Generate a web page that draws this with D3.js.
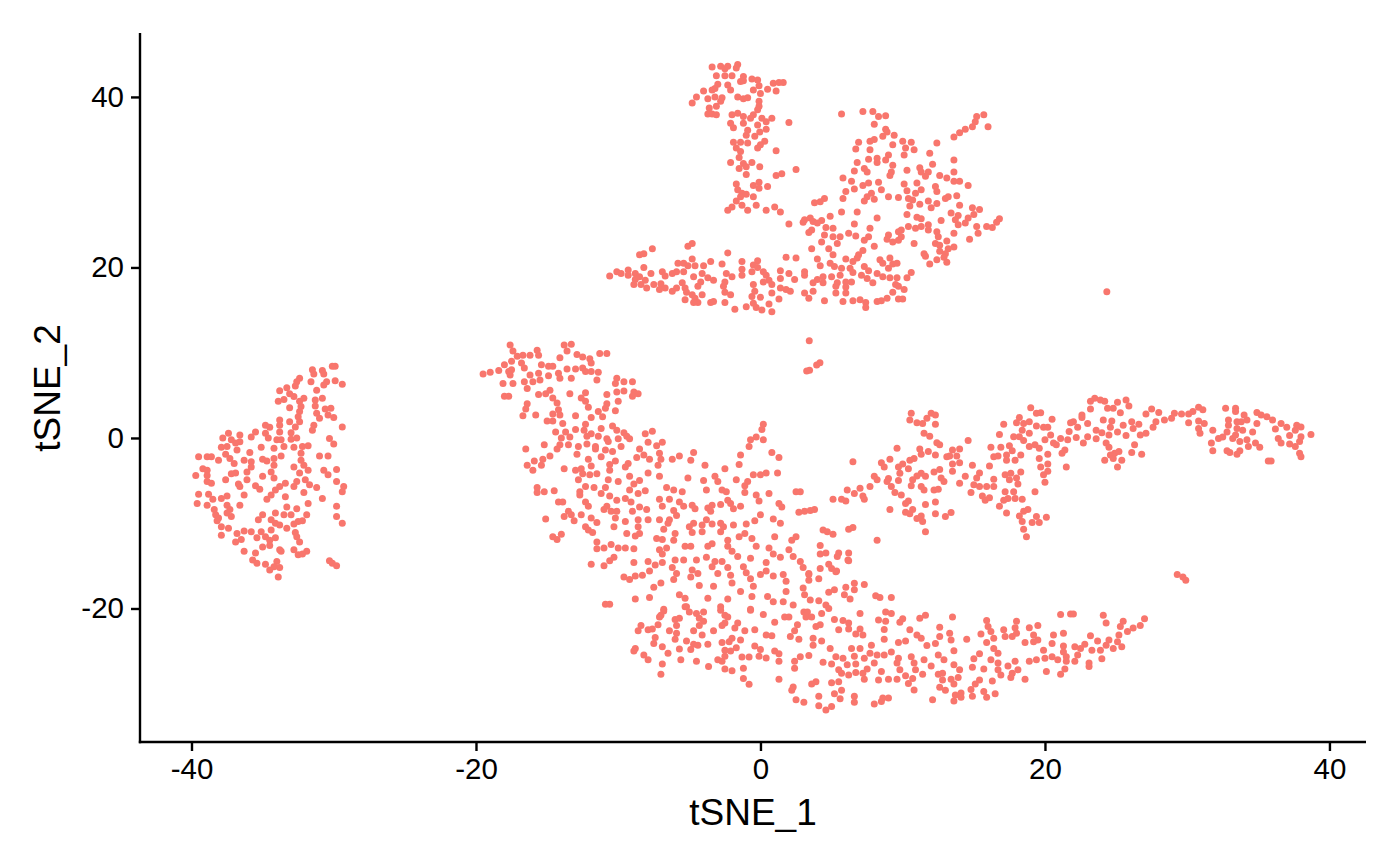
<!DOCTYPE html>
<html><head><meta charset="utf-8">
<script src="https://cdn.jsdelivr.net/npm/d3@7"></script>
<style>html,body{margin:0;padding:0;background:#fff}svg{display:block}</style>
</head><body><svg id="c" width="1400" height="865"></svg>
<script>
const xTicks=[-40,-20,0,20,40];
const yTicks=[-20,0,20,40];
const xLabel="tSNE_1", yLabel="tSNE_2";
const xDomain=[-43.62,42.57], yDomain=[-35.66,47.5];
const pointColor="#F8766D";
const leftCluster=[[-29.9,8.4],[-30.1,8.4],[-31.5,8],[-31.4,7.5],[-30.8,7.9],[-30.7,7.5],[-32.4,7],[-32.6,6.6],[-32.7,6.1],[-31.6,6.6],[-30.5,6.6],[-30.7,6.2],[-29.9,6.7],[-29.4,6.3],[-31.2,5.6],[-33.3,5.9],[-33.8,5.55],[-33.1,5.2],[-32.8,4.85],[-33.9,4.3],[-33.5,4.5],[-32.1,4.65],[-32.4,4.3],[-30.8,4.65],[-31.3,4.45],[-31.3,3.75],[-33.1,3.55],[-32.3,3.7],[-32.4,3.1],[-31.2,2.9],[-30.6,3.4],[-30.2,3.5],[-30.4,2.7],[-30,2.4],[-32.5,2.5],[-32.4,1.9],[-31,2.3],[-33.1,1.9],[-32.7,1.3],[-31.4,1.5],[-31.5,0.9],[-29.4,1.3],[-33.8,2.1],[-33.8,1.5],[-33.8,0.7],[-33,0.6],[-34.8,1.5],[-34.5,1.25],[-35.5,0.7],[-34.8,0.55],[-34.6,0],[-35.8,0.1],[-36.6,0.35],[-37.4,0.55],[-37.8,0],[-37.2,-0.2],[-36.6,-0.45],[-36.9,-0.6],[-34,-0.2],[-33.7,-0.2],[-33,-0.15],[-32.6,0],[-30.3,-0.05],[-30,-0.7],[-35.1,-1.1],[-34.2,-1.2],[-33.5,-1],[-32.8,-1.1],[-32.2,-1],[-31.8,-0.9],[-37.9,-1.1],[-37.5,-1],[-36.8,-1.4],[-35.9,-1.7],[-37.6,-1.9],[-37.3,-2.4],[-39.5,-2.2],[-38.9,-2.2],[-38.6,-2.2],[-38.1,-2.6],[-36.3,-2.6],[-37,-3],[-35.8,-2.8],[-35,-2.5],[-34.7,-2.7],[-34.2,-2.4],[-33.7,-2.1],[-32.3,-1.8],[-32.3,-2.6],[-31,-2.1],[-30.4,-2.1],[-34.2,-3.2],[-34.4,-4],[-32.8,-3.4],[-32.1,-3.2],[-31.8,-3.8],[-39.2,-3.6],[-38.9,-3.8],[-39.7,-4.4],[-38.9,-4.4],[-35.8,-3.4],[-36.1,-4],[-37.2,-4.2],[-36.9,-4.1],[-35,-4.5],[-34.2,-4.7],[-37.6,-4.9],[-36.1,-4.9],[-32.4,-4.1],[-30.7,-3.8],[-30.4,-4.3],[-29.8,-3.7],[-38.9,-5.1],[-38.6,-5.3],[-36.7,-5.4],[-36.6,-5.7],[-35.5,-5.6],[-35.2,-6],[-33.4,-5.3],[-33.8,-5.7],[-34.1,-6.1],[-32.6,-5.1],[-32.8,-5.7],[-32,-4.9],[-31.7,-5.5],[-31.2,-5.8],[-32.1,-6.4],[-29.8,-5.1],[-29.3,-5.7],[-29.4,-6.3],[-39.5,-6.6],[-38.8,-6.6],[-38.5,-7.2],[-37.9,-7.1],[-37.5,-6.8],[-36.3,-6.7],[-34.7,-7.2],[-34.4,-6.7],[-33.4,-6.9],[-30.8,-7.1],[-39.6,-7.7],[-38.9,-7.9],[-36.6,-7.9],[-37.5,-7.9],[-37.3,-8.4],[-38.4,-8.4],[-38.3,-9],[-37.5,-8.8],[-37.2,-9.2],[-38.1,-9.4],[-38.2,-9.7],[-31.8,-7.7],[-33.3,-8.1],[-32.6,-8.3],[-29.8,-8],[-31.9,-9],[-33,-9],[-33.5,-9],[-34.1,-8.8],[-35,-9],[-29.8,-9.2],[-29.4,-10],[-34.4,-9.6],[-35.3,-9.6],[-32.2,-9.7],[-32.5,-9.8],[-32.8,-10.1],[-33.8,-10.2],[-33.3,-10.6],[-34.1,-10],[-37.9,-10.4],[-37.4,-10.6],[-36.8,-11.2],[-37.9,-11.4],[-36.3,-10.9],[-35.8,-11],[-35.1,-11],[-34.4,-10.8],[-32.7,-11.1],[-35.4,-11.7],[-34.8,-11.6],[-34.1,-11.7],[-34.5,-12],[-32.6,-11.6],[-32.4,-12.2],[-36.5,-11.9],[-36.9,-12.2],[-35,-12.8],[-34.5,-12.6],[-36.3,-13.3],[-35.5,-13.5],[-33.8,-13.1],[-33.7,-13.3],[-32.8,-13.1],[-32.5,-13.7],[-31.9,-13.3],[-32.2,-13.6],[-35.7,-14.3],[-35.4,-14.7],[-34.8,-14.8],[-34,-14.5],[-34.2,-15.1],[-33.8,-15.2],[-34.5,-15.5],[-33.9,-16.3],[-30.3,-14.4],[-30.1,-14.7],[-29.8,-15]];
const topColumn=[[-3.4,43.5],[-2.8,43.6],[-2.3,43.6],[-1.6,43.8],[-1.7,43.4],[-2.5,43.3],[-3.1,42.5],[-2.5,42.5],[-2,42.5],[-1.2,42.4],[-1.4,41.8],[-1.2,41.9],[-0.6,42.1],[-0.2,42],[0.9,41.6],[1.3,41.7],[1.6,41.7],[-2.3,41.4],[-2.1,40.8],[-3,41.5],[-3.2,41],[-3.4,40.8],[-4,40.7],[-0.5,40.8],[-0.1,41.3],[0,40.4],[0.5,40.9],[1.1,40.7],[-4.5,40],[-3.7,39.8],[-4.8,39.3],[-3.2,40],[-2.7,39.9],[-2.8,39.5],[-3.1,38.9],[-1.6,40],[-1.2,39.8],[-0.9,39.9],[-0.1,39.5],[-0.1,38.9],[-0.2,38.5],[-3.6,38.7],[-3.7,38],[-3.4,38],[-3.1,37.9],[-2,37.9],[-1.6,38.1],[-1.2,37.7],[-0.5,37.9],[-0.7,37.5],[-2.1,36.9],[-1.9,36.4],[-1.2,36.9],[0.1,37.5],[0.8,37.5],[0.4,37.1],[2,37],[-0.2,36.7],[0.4,36.2],[-0.9,36.1],[-1,35.5],[-0.4,35.4],[-0.05,35.9],[-1.9,34.7],[-1.4,34.7],[-0.9,34.6],[0.3,34.8],[0,34.4],[-0.2,34],[-1.7,34],[-1.4,33.6],[1.1,33.7],[-1.5,32.9],[-2.1,32.3],[-1.2,32.2],[-0.6,32.3],[-1.5,31.6],[-1,31.8],[-0.05,31.8],[2.5,31.5],[-1,30.9],[1.5,31],[1.1,30.8],[-1.7,29.8],[-1.6,29.1],[-0.5,29.6],[-0.1,30],[-0.1,29.3],[0.5,29.5],[-1.3,28.7],[-1,28.6],[-0.5,28.3],[-1.7,27.8],[-1.4,28.3],[-1.3,27.3],[-2,27.1],[-2.3,26.7],[-0.9,26.7],[-0.3,27.3],[0.4,26.7],[1,27.1],[1.4,26.5],[2,25.1]];
const topRight=[[5.7,38],[7.2,38.3],[7.9,38.3],[8.3,37.7],[8.8,37.8],[8,36.8],[8.8,36.2],[8.9,35.9],[8.6,35.4],[9.4,35.5],[9.3,34.4],[7.7,34.8],[8,35],[6.9,34.7],[6.7,33.9],[7.7,33.8],[10,34.8],[10.6,34.7],[10.2,34],[10.8,33.8],[10.1,33.2],[11.9,33.4],[12.4,34.6],[13.6,35.3],[14,35.8],[14.4,36.2],[14.9,36.5],[15.1,37.1],[15.2,37.7],[15.7,37.9],[16,36.5],[9,33.2],[8.8,32.6],[9.3,32],[9.2,31.2],[9.1,30.8],[7.6,32.7],[7.3,31.6],[8.2,32.8],[8.2,32.3],[6.8,32.3],[6.6,31.3],[7.5,31.2],[10.3,31.4],[11.2,31.7],[11.3,31.2],[11.8,31.2],[11.6,30.7],[12.1,32.1],[13.6,32.6],[13.6,31.2],[12.6,30.8],[13.1,30.5],[13.6,30.1],[14,30.1],[14.6,29.6],[5.8,30.5],[6.4,30.1],[7.6,29.9],[8.3,30],[7.2,29.6],[6.6,29.2],[6,28.9],[8.5,29.1],[10.1,29.8],[11,29.9],[10.3,29],[11.3,29.1],[12.3,29.5],[12.4,28.9],[5.8,28.1],[4.5,28.1],[4.2,27.7],[3.8,27.6],[7.5,28.3],[7.3,27.8],[7.8,28.7],[8,28],[9,28.3],[9.7,28.2],[10.4,28.1],[10.9,28.7],[10.7,27.9],[11.8,27.8],[11.2,27.4],[12,27],[12.4,27.5],[13,28.1],[13.8,28.4],[13.2,28.3],[10.5,27.2],[14,27.3],[13.4,26.4],[14.9,27],[15.4,26.8],[15,26.2],[13.9,26.1],[5.7,26.5],[6.8,26.5],[4.9,26],[8.2,25.8],[10.3,26.2],[11,25.9],[11.3,25.7],[12.7,25.5],[14.6,25.8],[13.7,25.6],[14.4,25.2],[16.8,25.7],[16.6,25.3],[13.9,25],[6.6,25.1],[3.1,25.6],[3.5,25.8],[3,25.3],[3.7,25.4],[4.3,25.5],[4,25.2],[4.6,24.7],[5.1,24.6],[3.6,24.4],[3.4,24.1],[7.7,24.6],[9.9,24.4],[10.4,24.8],[10.9,24.6],[11.3,24.8],[11.8,25],[11.8,24.4],[15.2,24.8],[15.9,24.8],[16.3,24.7],[15.3,24],[13.6,24],[12.4,24.2],[12.5,23.6],[4.5,23.8],[5.1,23.6],[5.6,23.6],[6.2,24],[6.7,23.7],[7.6,23.6],[7.3,23.2],[9,23.8],[8.9,23.3],[9.7,24.2],[9.9,23.6],[9.7,23.2],[9.3,23],[13.1,23.1],[14.7,23.3],[4.3,23],[5.4,22.8],[10.8,22.8],[12.3,22.8],[12.6,22.6],[8,22.5],[13.6,22.4],[13.2,22.2],[3.6,22.2],[4.8,22.2],[7.2,22],[12.6,21.9],[13,21.6],[5.1,21.5],[6.9,21.5],[11.5,21.6],[11.6,21.3],[12.9,21.2],[12.4,20.9],[13.1,20.6],[11.9,20.4]];
const bandEast=[[1.8,21.2],[2.5,21.1],[4,21],[6,21],[6.5,20.7],[6.8,21.1],[8.4,20.9],[9.1,21.1],[8.6,20.5],[9.3,20.4],[9.6,20.5],[4.2,20.2],[4.9,20.5],[5.2,20.1],[5.7,19.9],[6.3,19.9],[7.3,20.1],[7.6,19.6],[9,19.9],[8.2,19.3],[6.5,19.4],[3.1,19.5],[3.1,19.1],[5.6,19.1],[5,18.9],[4.4,18.9],[4,18.6],[6,18.3],[7.1,19.1],[7.5,18.7],[8.6,18.9],[9.1,18.8],[9.6,18.8],[10.6,19.4],[10.3,18.8],[3.7,18.2],[4.4,18.2],[5.4,18.2],[6.4,18.3],[7.9,18.2],[9.5,18],[6,17.7],[5.3,17.8],[9.7,17.8],[10.1,17.4],[9.3,17.1],[3.1,17],[3.7,17.2],[6,17],[5.3,17],[3.4,16.4],[4.5,16.1],[5.8,16],[6.5,16.1],[7,16.2],[7.4,15.9],[7.4,15.3],[8.2,16],[8.5,16.1],[8.9,16.4],[9.7,16.3],[10,16.3]];
const bandWest=[[-10.6,19],[-10.1,19.5],[-9.8,19.3],[-9.3,19.7],[-9.3,19.1],[-8.8,19.3],[-8.2,20],[-7.7,19.3],[-6.9,19.5],[-6.7,19],[-6.2,19.3],[-5.9,19.5],[-8.5,21.5],[-8.2,21.6],[-7.6,22.2],[-5.1,22.5],[-4.8,22.8],[-8.8,18.6],[-8.5,18.9],[-8.1,18.5],[-8.9,18],[-8.4,18],[-8,17.6],[-7.5,18],[-7,18.1],[-7.1,17.4],[-6.7,17.6],[-5.8,20.5],[-5.4,20.5],[-5.1,20.2],[-4.8,21],[-4.6,20.2],[-5.4,19.5],[-4,20.2],[-3.5,20.7],[-2.7,20.4],[-2.3,21.7],[-1.3,20.7],[-0.2,20.8],[-0.5,20.3],[-0.2,20],[-1.3,19.8],[-1.3,19.1],[-0.6,19.5],[-2.4,19.3],[-2,18.9],[0.2,19.5],[0.4,19.1],[1.4,19.6],[1.4,18.7],[2,19.3],[2.4,18.6],[-4.7,18.9],[-4.1,19.3],[-3.7,18.8],[-3.3,18.5],[-4.2,18.3],[-5.5,18.2],[-2.5,18.3],[-2.6,17.8],[-4.4,17.8],[-5.9,17.6],[-6.2,17.2],[-5.3,17.6],[0.6,18.5],[0.2,18.3],[-0.5,18],[0.8,18],[1.4,17.6],[1.8,17.4],[2.1,17.2],[-2.5,17.1],[-2.1,16.8],[-5.2,17.1],[-4.8,16.8],[-4.1,16.8],[-0.4,17.2],[-0.6,16.6],[0.8,17],[0,16.5],[-4.6,16.4],[-5.3,16.2],[-4.4,15.9],[-4.7,15.9],[-3.5,15.9],[-3.3,16],[-2.5,15.9],[1.3,16.3],[0.6,15.7],[-0.5,15.8],[-1,15.4],[-0.3,15.3],[-1.8,15.1],[0.1,15],[0.8,14.8]];
const isolated=[[24.35,17.16],[3.43,11.4],[3.25,7.85],[3.45,7.95],[3.95,8.55],[4.18,8.83],[29.3,-16],[29.7,-16.3],[29.9,-16.7]];
const centreFan=[[-17.6,10.9],[-17.4,10.2],[-17.1,9.6],[-16.7,9.7],[-16.2,9.7],[-15.7,10.3],[-15.6,9.7],[-13.8,10.9],[-13.3,11],[-13.6,10.2],[-14.1,9.4],[-12.9,9.8],[-12.5,9.5],[-12,9.3],[-11.9,8.8],[-11.3,9.9],[-10.8,9.9],[-19.5,7.5],[-19,7.7],[-18.4,7.9],[-18,8.6],[-17.5,9],[-16.8,8.8],[-16.6,8.2],[-15.4,8.6],[-14.9,8.4],[-14.6,8.4],[-17.7,7.8],[-17.5,8],[-17.6,7.4],[-16.2,7.4],[-15.6,7.6],[-14.9,7.3],[-14.2,7.6],[-14.1,7],[-13.6,8.1],[-13,8.1],[-12.5,8.2],[-12.3,7.8],[-11.9,7.8],[-11.4,7.7],[-11.5,6.8],[-13.3,7],[-18.1,6.4],[-17.4,6.4],[-16.6,6.6],[-16,6.6],[-15.5,6.8],[-16.4,5.8],[-15.6,5.1],[-18,4.9],[-17.7,4.9],[-14.8,5.6],[-15.1,5.2],[-13.4,5.2],[-12.3,5.3],[-12.6,4.7],[-10.8,5.1],[-10.1,7],[-10.2,6.4],[-9.6,6.6],[-9,6.6],[-10.1,5.4],[-9.6,5.5],[-8.9,5.4],[-8.6,5.2],[-9,4.9],[-10,4.3],[-14.6,4.7],[-14.3,4.1],[-12.3,4.3],[-12.1,3.6],[-10.8,4],[-10.9,3.5],[-16.4,4],[-16.5,3.4],[-16.7,2.6],[-15.8,2.7],[-14.6,2.8],[-14.2,3.3],[-14.1,2.7],[-13,2.6],[-11.9,2.4],[-11.4,3.1],[-11.1,2.5],[-10.2,3.2],[-15,2],[-14.6,2],[-13.9,1.7],[-12.3,1.6],[-10.4,1.4],[-10.1,0.9],[-11.2,1.1],[-14.4,0.7],[-13.7,0.7],[-13,1],[-12.4,0.9],[-11.9,0.5],[-9.6,0.6],[-9.4,0.2],[-9.2,-0.1],[-8.1,0.5],[-7.6,0.8],[-14,0],[-13.4,0.1],[-12.2,0.2],[-11.4,0.2],[-10.8,-0.1],[-10,-0.1],[-7.9,-0.5],[-6.9,-0.5],[-7.3,-0.9],[-14.1,-0.8],[-13.5,-0.8],[-12.8,-1],[-12.2,-0.7],[-11.6,-1],[-10.7,-0.4],[-9.8,-1],[-16.5,-1.3],[-15.2,-0.8],[-14.3,-1.3],[-10.9,-1.4],[-11.6,-1.3],[-12.9,-1.9],[-10.4,-1.6],[-8.5,-1.3],[-14.8,-2.1],[-15.3,-2.5],[-15.9,-2.7],[-12.1,-2.5],[-11.2,-2.2],[-10.2,-2.7],[-8.7,-2.3],[-8.2,-2],[-7.8,-2.5],[-7.1,-1.8],[-7,-2.5],[-6.2,-2.5],[-5.7,-2.1],[-4.7,-1.7],[-4.9,-2.6],[-16.4,-3.2],[-16,-3.8],[-15.4,-3.2],[-13.8,-3.6],[-13,-3.8],[-12.6,-3.6],[-11.9,-3.3],[-10.6,-3.1],[-10.6,-3.8],[-9.3,-3],[-9.5,-3.4],[-7.2,-3.2],[-3.9,-3.2],[-1.4,-2],[-1.5,-3.1],[0.8,-1.7],[1.3,-2.3],[0.2,1.6],[0.1,1],[-0.7,-0.2],[-0.8,-1],[-0.3,0.1],[0.2,-0.2],[-12.5,-4.2],[-12,-4.3],[-11.5,-4.2],[-12.8,-4.9],[-10.7,-4.9],[-10,-5.1],[-9.2,-4.5],[-7.9,-4.1],[-7.1,-4.5],[-5.1,-4.7],[-4,-5],[-3.2,-4.5],[-3,-5.1],[-2.5,-3.6],[-1.7,-4.9],[-0.5,-4.3],[0,-4.3],[0.4,-4.1],[1.2,-4.1],[-0.9,-5.1],[-1.1,-5.6],[-1.1,-6.4],[-8.5,-5],[-8.9,-5.4],[-12.3,-5.7],[-11.7,-5.8],[-10.9,-5.8],[-15.7,-5.8],[-15.7,-6.4],[-15.2,-6.3],[-14.5,-6.2],[-12.7,-6.3],[-11.2,-6.5],[-9.2,-6.1],[-8.6,-6.5],[-8.1,-6.2],[-6.6,-5.8],[-6.1,-6.1],[-5.5,-6.3],[-3.8,-6.1],[-2.7,-6.1],[-2.4,-6.3],[0.6,-6.5],[2.5,-6.3],[2.8,-6.3],[-12.7,-6.7],[-10.6,-6.8],[-6.4,-7.2],[-0.3,-6.7],[-0.1,-7.4],[-12.3,-7.5],[-12.1,-8],[-14.2,-7.5],[-13.9,-7.5],[-10.1,-7.3],[-9.5,-7.1],[-9.1,-7.5],[-7.1,-7.2],[-6.9,-8],[-5.7,-7.5],[-5.4,-8],[-4.8,-7.9],[-4.6,-8.3],[-3.4,-7.9],[-2.8,-7.8],[-2.3,-7.3],[-2.1,-7.7],[-1.4,-8],[-1.9,-8.3],[1.3,-7.7],[1.5,-8.1],[-10.8,-8],[-11,-8.4],[-9,-8.6],[-8.5,-8.1],[-8,-8.4],[-6.1,-8.5],[-3.7,-8.2],[-3.5,-8.6],[2.7,-8.7],[3.1,-8.6],[3.5,-8.5],[3.8,-8.4],[-13.5,-8.6],[-13.8,-9.2],[-13.3,-9],[-12.6,-9],[-15.1,-9.5],[-13.1,-9.7],[-11.9,-9.4],[-11.5,-9.9],[-10.5,-8.6],[-10.1,-8.6],[-10.2,-9.4],[-10.3,-10.4],[-9.5,-9.8],[-8.6,-9.6],[-7.9,-9.6],[-7.1,-9.6],[-6.4,-9.6],[-5.9,-9.1],[-6.5,-10],[-4.7,-10],[-5,-10.4],[-4.1,-10.2],[-3.8,-9.6],[-3.4,-10.1],[-2.8,-10],[-1.9,-10.2],[-1,-10.1],[-0.4,-9.7],[0,-9],[0.9,-9.5],[1.4,-10],[-12.3,-10.4],[-12.1,-10.8],[-11.8,-11.1],[-8.6,-10.4],[-6.8,-10.7],[-4.1,-11],[-4.8,-11.1],[-2.8,-11],[-2.6,-10.4],[-1.1,-11.2],[-1.5,-11.6],[-9.4,-11.2],[-8.8,-11.5],[-8.5,-11.2],[-6,-11.2],[-6.1,-12],[1,-11.6],[2.5,-11.6],[2.2,-12],[-14.6,-11.6],[-14.3,-11.9],[-14,-11.3],[-7.3,-11.8],[-6.9,-11.9],[-2.3,-12],[-0.6,-11.8],[-11.5,-12.2],[-10.5,-12.5],[-11.5,-13],[-11,-12.9],[-10,-12.9],[-9.5,-12.9],[-8.9,-13],[-5.3,-12.7],[-4.9,-12.7],[-3.7,-12.7],[-3.4,-12.4],[-0.3,-12.7],[-2.3,-12.7],[0.6,-12.9],[2,-13.1],[-7.1,-13.1],[-6.6,-12.9],[-6.9,-13.6],[-2,-13.3],[-1.6,-13.9],[0.9,-13.6],[2.3,-13.9],[1.4,-14],[-10.3,-14],[-10.6,-14.4],[-11.9,-14.8],[-11,-15],[-8.9,-14.6],[-7.9,-14.5],[-6.9,-14.6],[-7.4,-14.9],[-5.4,-14.3],[-6,-14.3],[-4.5,-14.3],[-3.8,-14],[-3.2,-14.5],[-2.7,-14.5],[-0.7,-14.1],[0.4,-14.6],[2.8,-14.5],[-6.2,-15.2],[-4.8,-15.5],[-3.4,-15.1],[-2.3,-15.2],[-1.2,-15.1],[0.4,-15.6],[3,-15.2],[-7.8,-15.6],[-3,-15.9],[-5.9,-15.9],[-4.4,-15.9],[-1,-15.8],[0,-16],[0.9,-16.2],[1.6,-16],[3.4,-15.9],[-2.1,-16.1],[-9.6,-16.3],[-8.8,-16.2],[-8.3,-16.1],[-6.1,-16.6],[-4.9,-16.3],[-2,-17],[-0.7,-16.5],[1.8,-16.8],[3.4,-16.7],[-9.2,-16.6],[-7,-17],[-7.5,-17.5],[-4.3,-17.3],[-3.3,-17.4],[-0.5,-17.4],[-1.4,-18],[3,-17.6],[1.8,-18],[3.1,-18.4],[-5.7,-18.4],[-5.3,-18.8],[-7.8,-18.7],[-8.8,-18.9],[-3.7,-18.8],[-2.3,-18.9],[-0.6,-18.6],[0.5,-18.6],[0.9,-19.2],[1.6,-19.2],[2.3,-19.6],[3.5,-19],[-10.9,-19.5],[-10.6,-19.5],[-2.8,-19.8],[-5.3,-19.8],[-6.8,-20.1],[-0.7,-20.1],[4.2,-12.6],[4.2,-13.6],[4.6,-13.5],[5.5,-13.5],[5.4,-13.9],[6.2,-13.5],[6.15,-14.3],[5,-15.3],[5.35,-15.6]];
const lowerArcWest=[[-6.8,-20.3],[-7,-20.8],[-6,-21.3],[-5.7,-21.15],[-5.9,-22],[-7.2,-21.9],[-7.1,-21],[-8.4,-22],[-8.6,-22.6],[-7.9,-22.5],[-7.6,-22.4],[-6.4,-22.6],[-5.9,-22.9],[-6,-23.6],[-4.7,-22.6],[-4.1,-23.1],[-4,-21.5],[-4.3,-22],[-4.5,-20.6],[-4,-20.4],[-4.3,-21.15],[-5.2,-19.8],[-5,-20.4],[-7.4,-23.4],[-7.5,-24.1],[-5.2,-23.8],[-4.7,-24.2],[-4.4,-24.3],[-4.9,-24.8],[-5.7,-24.75],[-3.7,-24.2],[-3.3,-22.6],[-2.8,-20.2],[-2.5,-20.8],[-2.3,-21],[-2.5,-21.7],[-2.7,-22],[-1.8,-22.3],[-1.6,-21.7],[-1.1,-22.6],[-0.4,-22.5],[-2,-23.5],[-2.2,-23.9],[-2.7,-24],[-1.4,-23.7],[-1.7,-24.6],[-2.1,-25],[-2.5,-24.9],[-0.4,-24.4],[0,-24.8],[-0.1,-25.6],[0.4,-25.8],[-0.8,-25.7],[-1.3,-25.7],[-2.5,-25.6],[-2.7,-26.2],[-3,-26],[-4.5,-26.2],[-5.6,-26],[-3.65,-26.8],[-2.5,-27.1],[-2,-27.3],[-1.2,-27],[-1.2,-28.2],[-0.8,-28.9],[-6.9,-26.5],[-7,-27.7],[-8.8,-24.7],[-8.9,-25],[-8.2,-25.45],[-7.9,-26],[-6.9,-24.5],[-6.5,-25.25],[0.4,-23.1],[0.8,-23.2],[1,-25],[1.3,-25.3],[1.3,-26.2],[0.2,-20.7],[1,-21.6],[-0.7,-20.2],[1.7,-21],[2,-21],[2.4,-22.6],[2.1,-23.3],[2.7,-23.6],[2.6,-21.9],[3.05,-20.4],[3.3,-20.4],[3.2,-21],[3.6,-21],[3.9,-22.1],[4.2,-21.9],[3.7,-23.5],[3.7,-24.3],[4.3,-23.8],[4.9,-24.7],[2.8,-25.65],[3.4,-25.5],[2.4,-26.2],[2.4,-27],[1.3,-28.3],[2.3,-29.2],[2.2,-29.6],[2.5,-30.7],[3.05,-31]];
const lowerArcEast=[[4.2,-15.3],[4.8,-14.8],[5.3,-15.7],[4.1,-16.5],[3.4,-16],[6.2,-14.4],[7.3,-17.2],[6.6,-17.05],[6.6,-17.8],[6,-17.5],[5.9,-18.4],[6.3,-18.9],[5.2,-17.8],[4.8,-18.1],[8.1,-18.5],[8.4,-18.7],[9.2,-18.7],[4.6,-19.6],[4.1,-19.1],[4.8,-20],[4.3,-20.6],[7,-20.6],[8.8,-20.4],[9.2,-20.6],[11.6,-20.8],[11.2,-21.15],[13.5,-21],[10,-21.2],[9.8,-21.6],[8.3,-21.35],[8.8,-21.5],[5.2,-21.3],[5.8,-21.4],[6.2,-21.7],[6.2,-22.4],[5.5,-22.5],[7,-22.4],[6.7,-23],[7.2,-23.1],[8.7,-22.45],[10.5,-22.5],[11,-23.1],[11.3,-23.5],[12.6,-22.2],[12.6,-23.3],[13.3,-22.9],[13.4,-23.7],[12.3,-24.1],[11.7,-24.35],[8.7,-23.6],[10.2,-23.8],[9.7,-24],[14.5,-23.6],[15.9,-21.4],[16,-22.1],[15.5,-23],[16.2,-22.7],[16.4,-23.5],[15.9,-24],[18,-21.5],[17.9,-22.25],[17.1,-22.5],[17.2,-23.3],[17.7,-23.3],[18,-22.9],[18.9,-22.25],[19.5,-22],[19.2,-23.1],[18.6,-24],[19.2,-23.9],[19.5,-23.7],[21.1,-20.7],[21.8,-20.65],[22,-20.65],[24.1,-20.8],[24.3,-21.7],[25.5,-21.5],[27,-21.2],[26.7,-22],[26.2,-22.3],[25.3,-22.1],[25.8,-22.7],[25.2,-23.1],[25.1,-23.9],[23.2,-23.2],[23.7,-23.8],[24.5,-23.7],[24.3,-24.3],[24.8,-24.7],[25.4,-24.5],[22.8,-24.2],[22.1,-24.5],[21.3,-22.9],[20.6,-23.1],[20.5,-24.1],[21.3,-24.4],[19.9,-24.9],[21.3,-25.1],[22.5,-24.7],[23.3,-24.9],[23.9,-24.9],[22.3,-25.45],[21.5,-25.65],[20.5,-25.65],[20,-25.85],[19.4,-26],[18.9,-26.2],[20.9,-26],[21.5,-26.2],[22.1,-26.2],[24,-25.9],[23.1,-26.4],[23.1,-26.8],[21.4,-27.1],[21.1,-27.7],[20.1,-27.4],[18.1,-27.2],[17.7,-27.6],[17.6,-28.1],[18.6,-28.3],[17.9,-26.2],[17.4,-26.75],[16.7,-26.4],[16.2,-26],[16.7,-25.25],[16.4,-24.7],[15.4,-25.3],[15,-25.9],[14.9,-26.9],[15.7,-27.1],[16.7,-27.2],[16.9,-27.8],[16.3,-28.5],[15.4,-28.4],[15.1,-28.85],[14.8,-29.5],[15.7,-29.75],[16.5,-30],[15.9,-30.4],[14.9,-30.3],[14.1,-29.9],[14.1,-30.4],[13.7,-30.15],[13.6,-30.85],[13.6,-28.85],[13.9,-28.1],[13.4,-28.3],[12.8,-27.6],[12.5,-27.7],[13.6,-26.6],[14,-27.2],[12.9,-26],[12.5,-25.45],[13.6,-24.95],[12,-26.75],[11.5,-26],[11.4,-27.7],[10.9,-27.2],[10.8,-26.4],[10.6,-25.65],[9.7,-25.85],[9.6,-26.4],[9.8,-27.2],[10.2,-27.9],[10.7,-28.2],[10.4,-28.8],[10.8,-29.55],[12.6,-29.25],[12.8,-28.4],[13,-29.6],[12.1,-30.7],[9.2,-25.1],[8.7,-25.45],[8.2,-25.45],[7.8,-24.3],[7.7,-25.25],[7.3,-25.85],[8,-26.4],[7.5,-27.1],[8.5,-27.4],[7.2,-27.6],[7.3,-28.3],[8.3,-28.4],[9,-28.3],[9.6,-28.3],[6.4,-24.7],[7,-24.7],[6.6,-25.6],[5.3,-25.65],[5.8,-25.85],[5,-26.5],[4.4,-26.3],[5.5,-27.2],[6.1,-26.6],[6.7,-26.5],[6.2,-27.8],[5.7,-27.6],[6.7,-27.5],[5.5,-28.6],[5,-28.7],[3.9,-28.6],[3.6,-28.85],[5.7,-29.6],[5.2,-30],[5.6,-30.6],[6.6,-30.3],[6.6,-31],[8,-31.2],[8.6,-30.5],[9,-30.5],[8.5,-30.9],[4.1,-30.3],[4.1,-31.4],[5,-31.5],[4.6,-31.9]];
const rightTail=[[23.5,4.65],[23.2,4.3],[23.9,4.45],[24.2,4.3],[24.4,3.5],[24.8,3.5],[25.1,4.2],[25.7,4.45],[25.9,3.75],[23.2,3.4],[25.3,2.95],[22.6,2.7],[22.6,2.4],[22,1.9],[21.8,1.8],[23,1.7],[24.1,2.1],[24.7,2],[22.3,1.25],[21.7,0.75],[23.6,0.9],[24,0.6],[24.6,1.25],[25.1,0.7],[25.5,1.5],[26.1,1.9],[26.6,1.6],[26.2,1.1],[25.7,0.3],[26.7,0.35],[27.1,0.55],[27.6,1.25],[27.8,1.9],[28.4,2.1],[27.1,2.8],[27.5,3.4],[28,3],[28.9,2.3],[29.1,2.9],[29.6,2.8],[30.1,2.8],[30.4,3.1],[30.8,3.6],[31.1,3.3],[30.1,1.8],[30.8,2],[31.2,1.7],[30.8,1.1],[30.9,0.55],[31.8,0.9],[31.7,-0.6],[31.8,-1.5],[32.2,-0.05],[32.5,0.1],[32.7,3.5],[33.4,3.5],[33.4,3.1],[34,2.7],[32.9,2.1],[32.9,1.5],[32.8,0.7],[33.5,1.9],[33.8,1.9],[34.2,2.1],[34.9,1.7],[33.5,1.1],[33.9,0.9],[34.6,0.7],[33.2,-0.05],[33.7,-0.4],[34.2,-0.2],[33.4,0.35],[32.8,-1.5],[33,-1.7],[33.5,-1.9],[33.7,-1.5],[34.3,-1],[34.8,-0.6],[35.1,-1.1],[34.9,3],[35.2,2.7],[35.6,2.5],[36,2.1],[36.6,1.7],[37,1.25],[36.2,1.05],[37.7,1.5],[38,1.3],[37.6,0.9],[37.2,0.3],[36.4,-0.05],[36.6,-0.6],[37.2,-0.7],[37.6,-1],[37.9,-0.4],[38,0.15],[38.7,0.4],[37.9,-1.8],[38,-2.2],[35.7,-2.7],[35.9,-2.7]];
const midTail=[[19,3.55],[19.4,2.9],[19.7,2.95],[18.2,2.4],[20.5,2.2],[18,1.8],[18.5,1.7],[18.9,1.9],[17.1,1.6],[19.4,1.4],[19.9,1.25],[20.2,1.25],[18.4,0.9],[18.9,0.55],[16.8,0.4],[17.8,0.15],[18.2,0.15],[20.4,0.35],[21.1,-0.05],[21.6,-0.2],[22.2,0.05],[20,-0.2],[18.5,-0.3],[20.6,-0.6],[19.3,-0.8],[18.9,-1],[19.6,-1.2],[21.4,-1.4],[20.8,-0.8],[21.2,-1.8],[22.7,-0.6],[23,0.15],[23.6,-0.1],[24.5,0.35],[24.3,-0.6],[24.5,-1.1],[26.3,-0.8],[26.1,-1.7],[26.8,-1.9],[24.9,-1.8],[25.2,-1.6],[24.6,-2],[24.2,-2.6],[24.8,-2.4],[25.4,-2.6],[25.1,-3.4],[16.2,-1.1],[16.9,-1.1],[17.5,-0.9],[17.7,-1.5],[18.3,-2],[16.4,-2.2],[16.7,-2.1],[17.3,-2],[17.3,-2.6],[17.9,-2.6],[19.6,-2.4],[20.2,-1.9],[20.2,-3.05],[19.7,-3.4],[20.2,-3.9],[19.9,-4.3],[21.5,-3.4],[20,-5.2],[19.3,-6.3],[16.1,-3.3],[17.2,-4.3],[17.6,-4.15],[18.3,-4],[18,-4.7],[17.5,-4.9],[16.4,-4.85],[18.1,-5.4],[17.2,-6.3],[17.8,-6.3],[18.4,-7.2],[17.9,-7.1],[17.4,-7.1],[17.1,-7.3],[16.8,-8],[17.3,-8.8],[18.8,-8.4],[18.5,-8.6],[18.2,-9.15],[18.4,-9.8],[19.1,-9.9],[19.4,-9.2],[19.6,-9.9],[20.1,-9.3],[18.5,-10.7],[18.7,-11.6],[14.6,-0.3],[14.9,-3.2],[15.4,-4.1],[14.4,-4.5],[14,-5.3],[15.2,-4.7],[15,-5.5],[14.8,-6.4],[15.4,-5.7],[15.9,-5.7],[16.4,-5.7],[15.6,-6.8],[15.8,-7.3],[16.1,-7],[14,-1.3],[13.5,-1.4],[13.3,-2.1],[13.8,-2.1],[13.1,-2.2],[14,-2.9],[13.5,-3.05],[13.5,-3.9],[10.6,2.9],[10.5,2.1],[11,1.8],[11.4,1.7],[11.7,2.3],[12,2.9],[12.3,2.7],[12.3,1.6],[11.5,0.55],[11.9,0.2],[12.4,-0.55],[12.6,-0.8],[9.6,-1.2],[11.2,-1.3],[11.8,-1.6],[11.3,-1.9],[12.3,-2],[6.5,-2.8],[10.5,-2.6],[10.8,-2.4],[9.1,-2.5],[8.5,-2.9],[8.7,-3.4],[9.7,-3.4],[10,-3.05],[10.4,-3.6],[12.2,-4],[12.6,-3.7],[9.8,-4.15],[9.7,-5],[8,-4.5],[8.2,-4.9],[9,-4.75],[8.9,-5.1],[11.3,-4.15],[11.6,-4.5],[11,-4.45],[10.7,-4.9],[12.7,-4.7],[12.9,-5.1],[10.6,-5.6],[11.3,-5.7],[11.5,-6.1],[12.2,-6.1],[12.5,-6],[9.2,-5.7],[7.7,-5.7],[7,-5.9],[6.1,-6.1],[6.6,-6.5],[9.45,-6.4],[9.9,-6.7],[7.2,-6.8],[7.3,-7.2],[5.1,-7.2],[5.7,-7.2],[6,-7.4],[10.4,-7.4],[10.2,-7.7],[12.3,-7.5],[11.6,-7.8],[10.7,-8.4],[9.1,-8.4],[10.2,-8.7],[10.5,-8.9],[12.3,-8.9],[13,-9.2],[13.4,-8.75],[11.3,-9.15],[11,-9.45],[11.4,-9.8],[11.6,-11],[6.2,-10.7],[6.5,-10.5],[4.4,-10.8],[4.7,-11],[5.1,-11.3],[8.2,-12]];

const clusters=[leftCluster,topColumn,topRight,bandEast,bandWest,isolated,centreFan,lowerArcWest,lowerArcEast,rightTail,midTail];
const svg=d3.select("#c");
const x=d3.scaleLinear().domain(xDomain).range([140,1366]);
const y=d3.scaleLinear().domain(yDomain).range([742,33]);
const font='"Liberation Sans",Arial,sans-serif';
svg.append("g").selectAll("circle").data(clusters.flat()).join("circle")
  .attr("cx",d=>x(d[0])).attr("cy",d=>y(d[1])).attr("r",3.5).attr("fill",pointColor);
const gx=svg.append("g").attr("transform","translate(0,742)")
  .call(d3.axisBottom(x).tickValues(xTicks).tickFormat(d=>String(d)).tickSize(9).tickPadding(7));
const gy=svg.append("g").attr("transform","translate(140,0)")
  .call(d3.axisLeft(y).tickValues(yTicks).tickFormat(d=>String(d)).tickSize(9).tickPadding(7));
[gx,gy].forEach(g=>{
  g.selectAll(".domain").attr("stroke","#000").attr("stroke-width",2.4).attr("d",null);
  g.selectAll(".tick line").attr("stroke","#000").attr("stroke-width",2.4);
  g.selectAll("text").attr("fill","#000").style("font-family",font).style("font-size","29.5px");
});
gx.select(".domain").attr("d","M138.8,0H1366");
gy.select(".domain").attr("d","M0,743.2V33");
svg.append("text").attr("x",753).attr("y",825).attr("text-anchor","middle")
  .style("font-family",font).style("font-size","37px").text(xLabel);
svg.append("text").attr("transform","translate(60,388) rotate(-90)").attr("text-anchor","middle")
  .style("font-family",font).style("font-size","37px").text(yLabel);
</script></body></html>
